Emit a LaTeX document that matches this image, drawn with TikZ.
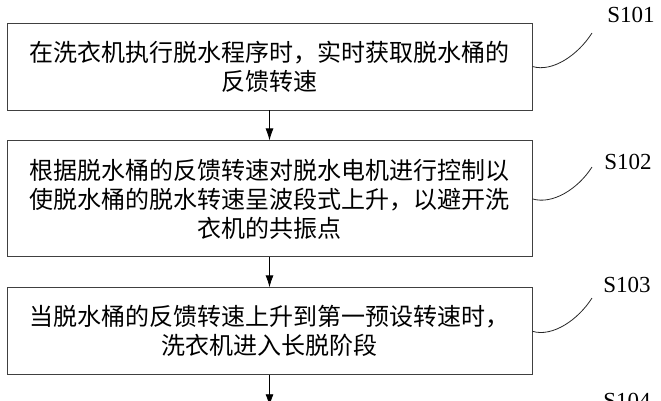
\documentclass[tikz,border=0pt]{standalone}
\usepackage{fontspec}
\setmainfont{Liberation Serif}
\newfontfamily\cjk{Noto Sans CJK SC}
\usetikzlibrary{positioning,arrows.meta}
\tikzset{
block/.style = {draw=black!75, line width=0.9pt, fill=white, rectangle, align=center, minimum width=525pt, inner sep=4pt, font=\cjk\fontsize{24}{29}\selectfont},
steplabel/.style = {inner sep=0pt, font=\fontsize{23}{23}\selectfont},
tag/.style = {draw=black!85, line width=0.8pt},
flow/.style = {draw, line width=0.8pt, -{Latex[length=12pt,width=8pt]}}
}

\begin{document}
\begin{tikzpicture}[x=1pt, y=-1pt]
    \useasboundingbox (0,0) rectangle (661,400);
    \clip (0,0) rectangle (661,400);
    % steps
    \node[block, minimum height=87pt] (box1) at (269.5,66.5) {在洗衣机执行脱水程序时，实时获取脱水桶的\\反馈转速};
    \node[block, minimum height=116pt, below=30pt of box1] (box2) {根据脱水桶的反馈转速对脱水电机进行控制以\\使脱水桶的脱水转速呈波段式上升，以避开洗\\衣机的共振点};
    \node[block, minimum height=87pt, below=30pt of box2] (box3) {当脱水桶的反馈转速上升到第一预设转速时，\\洗衣机进入长脱阶段};
    \coordinate[below=31pt of box3] (box4top);
    % step numbers
    \node[steplabel] (s101) at (631,15) {S101};
    \node[steplabel] (s102) at (628,162) {S102};
    \node[steplabel] (s103) at (627,285) {S103};
    \node[steplabel] (s104) at (627,401) {S104};
    \coordinate (c101) at (592,33);
    \coordinate (c102) at (592,167);
    \coordinate (c103) at (592,298);
    % arrows
    \draw[flow] (box1) -- (box2);
    \draw[flow] (box2) -- (box3);
    \draw[flow] (box3) -- (box4top);
    \draw[tag] (box1.east) .. controls +(20,6) and +(-14,22) .. (c101);
    \draw[tag] (box2.east) .. controls +(20,6) and +(-14,22) .. (c102);
    \draw[tag] (box3.east) .. controls +(20,6) and +(-14,22) .. (c103);
\end{tikzpicture}
\end{document}
